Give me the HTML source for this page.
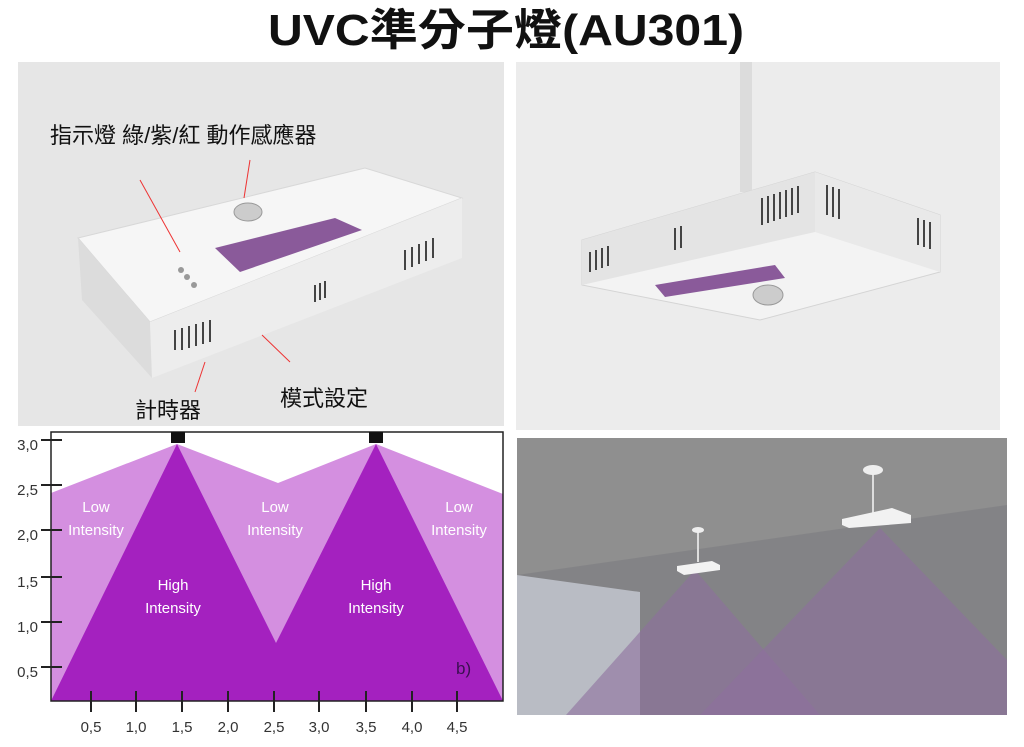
<!DOCTYPE html>
<html><head><meta charset="utf-8"><style>
body{margin:0;background:#fff;}
svg{display:block;font-family:"Liberation Sans","Noto Sans CJK TC",sans-serif;}
</style></head><body>
<svg width="1024" height="747" viewBox="0 0 1024 747" xmlns="http://www.w3.org/2000/svg">
<rect width="1024" height="747" fill="#fff"/>
<text x="506" y="45" text-anchor="middle" font-size="44" font-weight="bold" fill="#111" textLength="476" lengthAdjust="spacingAndGlyphs">UVC準分子燈(AU301)</text>

<!-- top-left photo -->
<rect x="18" y="62" width="486" height="364" fill="#e6e6e6"/>
<polygon points="78,238 365,168 462,198 150,322" fill="#f6f6f6" stroke="#d8d8d8"/>
<polygon points="78,238 150,322 152,378 82,300" fill="#dcdcdc"/>
<polygon points="150,322 462,198 462,258 152,378" fill="#ededed"/>
<polygon points="215,248 335,218 362,230 240,272" fill="#8a5a9a"/>
<ellipse cx="248" cy="212" rx="14" ry="9" fill="#ccc" stroke="#999"/>
<circle cx="181" cy="270" r="3" fill="#999"/><circle cx="187" cy="277" r="3" fill="#999"/><circle cx="194" cy="285" r="3" fill="#999"/>
<g stroke="#444" stroke-width="2">
<line x1="175" y1="330" x2="175" y2="350"/><line x1="182" y1="328" x2="182" y2="350"/><line x1="189" y1="326" x2="189" y2="348"/><line x1="196" y1="324" x2="196" y2="346"/><line x1="203" y1="322" x2="203" y2="344"/><line x1="210" y1="320" x2="210" y2="342"/>
<line x1="315" y1="285" x2="315" y2="302"/><line x1="320" y1="283" x2="320" y2="300"/><line x1="325" y1="281" x2="325" y2="298"/>
<line x1="405" y1="250" x2="405" y2="270"/><line x1="412" y1="247" x2="412" y2="267"/><line x1="419" y1="244" x2="419" y2="264"/><line x1="426" y1="241" x2="426" y2="261"/><line x1="433" y1="238" x2="433" y2="258"/>
</g>
<g stroke="#e33" stroke-width="1">
<line x1="140" y1="180" x2="180" y2="252"/><line x1="250" y1="160" x2="244" y2="198"/>
<line x1="195" y1="392" x2="205" y2="362"/><line x1="290" y1="362" x2="262" y2="335"/>
</g>
<text x="50" y="143" font-size="22" fill="#111">指示燈 綠/紫/紅 動作感應器</text>
<text x="135" y="418" font-size="22" fill="#111">計時器</text>
<text x="280" y="406" font-size="22" fill="#111">模式設定</text>

<!-- top-right photo -->
<rect x="516" y="62" width="484" height="368" fill="#ececec"/>
<rect x="740" y="62" width="12" height="130" fill="#dcdcdc"/>
<polygon points="582,240 815,172 940,215 940,272 760,320 582,285" fill="#f3f3f3" stroke="#d4d4d4"/>
<polygon points="582,240 815,172 815,232 582,285" fill="#e4e4e4"/>
<polygon points="815,172 940,215 940,272 815,232" fill="#e9e9e9"/>
<polygon points="655,285 775,265 785,278 665,297" fill="#8a5a9a"/>
<ellipse cx="768" cy="295" rx="15" ry="10" fill="#ccc" stroke="#999"/>
<g stroke="#444" stroke-width="2">
<line x1="590" y1="252" x2="590" y2="272"/><line x1="596" y1="250" x2="596" y2="270"/><line x1="602" y1="248" x2="602" y2="268"/><line x1="608" y1="246" x2="608" y2="266"/>
<line x1="675" y1="228" x2="675" y2="250"/><line x1="681" y1="226" x2="681" y2="248"/>
<line x1="762" y1="198" x2="762" y2="225"/><line x1="768" y1="196" x2="768" y2="223"/><line x1="774" y1="194" x2="774" y2="221"/><line x1="780" y1="192" x2="780" y2="219"/><line x1="786" y1="190" x2="786" y2="217"/><line x1="792" y1="188" x2="792" y2="215"/><line x1="798" y1="186" x2="798" y2="213"/>
<line x1="827" y1="185" x2="827" y2="215"/><line x1="833" y1="187" x2="833" y2="217"/><line x1="839" y1="189" x2="839" y2="219"/>
<line x1="918" y1="218" x2="918" y2="245"/><line x1="924" y1="220" x2="924" y2="247"/><line x1="930" y1="222" x2="930" y2="249"/>
</g>

<!-- bottom-right photo -->
<rect x="517" y="438" width="490" height="277" fill="#8f8f8f"/>
<polygon points="517,575 1007,505 1007,715 517,715" fill="#838386"/>
<polygon points="517,575 640,592 640,715 517,715" fill="#b9bcc4"/>
<polygon points="695,570 820,715 566,715" fill="#8e6f9e" opacity="0.6"/>
<polygon points="880,528 1007,660 1007,715 700,715" fill="#8e6f9e" opacity="0.6"/>
<line x1="698" y1="530" x2="698" y2="562" stroke="#ddd" stroke-width="2"/>
<ellipse cx="698" cy="530" rx="6" ry="3" fill="#eee"/>
<polygon points="677,566 712,561 720,565 720,570 684,575 677,571" fill="#f2f2f2"/>
<line x1="873" y1="470" x2="873" y2="515" stroke="#ddd" stroke-width="2"/>
<ellipse cx="873" cy="470" rx="10" ry="5" fill="#eee"/>
<polygon points="842,519 892,508 911,515 911,523 849,528 842,525" fill="#f2f2f2"/>

<!-- chart -->
<polygon points="51,493 177,444 278,483 376,444 503,494 503,701 51,701" fill="#d48fe0"/>
<polygon points="51,701 177,444 276,643 376,444 503,701" fill="#a421bf"/>
<rect x="51" y="432" width="452" height="269" fill="none" stroke="#222" stroke-width="1.5"/>
<rect x="171" y="432" width="14" height="11" fill="#111"/>
<rect x="369" y="432" width="14" height="11" fill="#111"/>
<g stroke="#222" stroke-width="2">
<line x1="41" y1="440" x2="62" y2="440"/><line x1="41" y1="485" x2="62" y2="485"/><line x1="41" y1="530" x2="62" y2="530"/><line x1="41" y1="577" x2="62" y2="577"/><line x1="41" y1="622" x2="62" y2="622"/><line x1="41" y1="667" x2="62" y2="667"/>
<line x1="91" y1="691" x2="91" y2="712"/><line x1="136" y1="691" x2="136" y2="712"/><line x1="182" y1="691" x2="182" y2="712"/><line x1="228" y1="691" x2="228" y2="712"/><line x1="274" y1="691" x2="274" y2="712"/><line x1="319" y1="691" x2="319" y2="712"/><line x1="366" y1="691" x2="366" y2="712"/><line x1="412" y1="691" x2="412" y2="712"/><line x1="457" y1="691" x2="457" y2="712"/>
</g>
<g font-size="15" fill="#333" text-anchor="end">
<text x="38" y="450">3,0</text><text x="38" y="495">2,5</text><text x="38" y="540">2,0</text><text x="38" y="587">1,5</text><text x="38" y="632">1,0</text><text x="38" y="677">0,5</text>
</g>
<g font-size="15" fill="#333" text-anchor="middle">
<text x="91" y="732">0,5</text><text x="136" y="732">1,0</text><text x="182" y="732">1,5</text><text x="228" y="732">2,0</text><text x="274" y="732">2,5</text><text x="319" y="732">3,0</text><text x="366" y="732">3,5</text><text x="412" y="732">4,0</text><text x="457" y="732">4,5</text>
</g>
<g font-size="15" fill="#fff" text-anchor="middle">
<text x="96" y="512">Low</text><text x="96" y="535">Intensity</text>
<text x="275" y="512">Low</text><text x="275" y="535">Intensity</text>
<text x="459" y="512">Low</text><text x="459" y="535">Intensity</text>
<text x="173" y="590">High</text><text x="173" y="613">Intensity</text>
<text x="376" y="590">High</text><text x="376" y="613">Intensity</text>
</g>
<text x="456" y="674" font-size="17" fill="#3a1050">b)</text>
</svg>
</body></html>
